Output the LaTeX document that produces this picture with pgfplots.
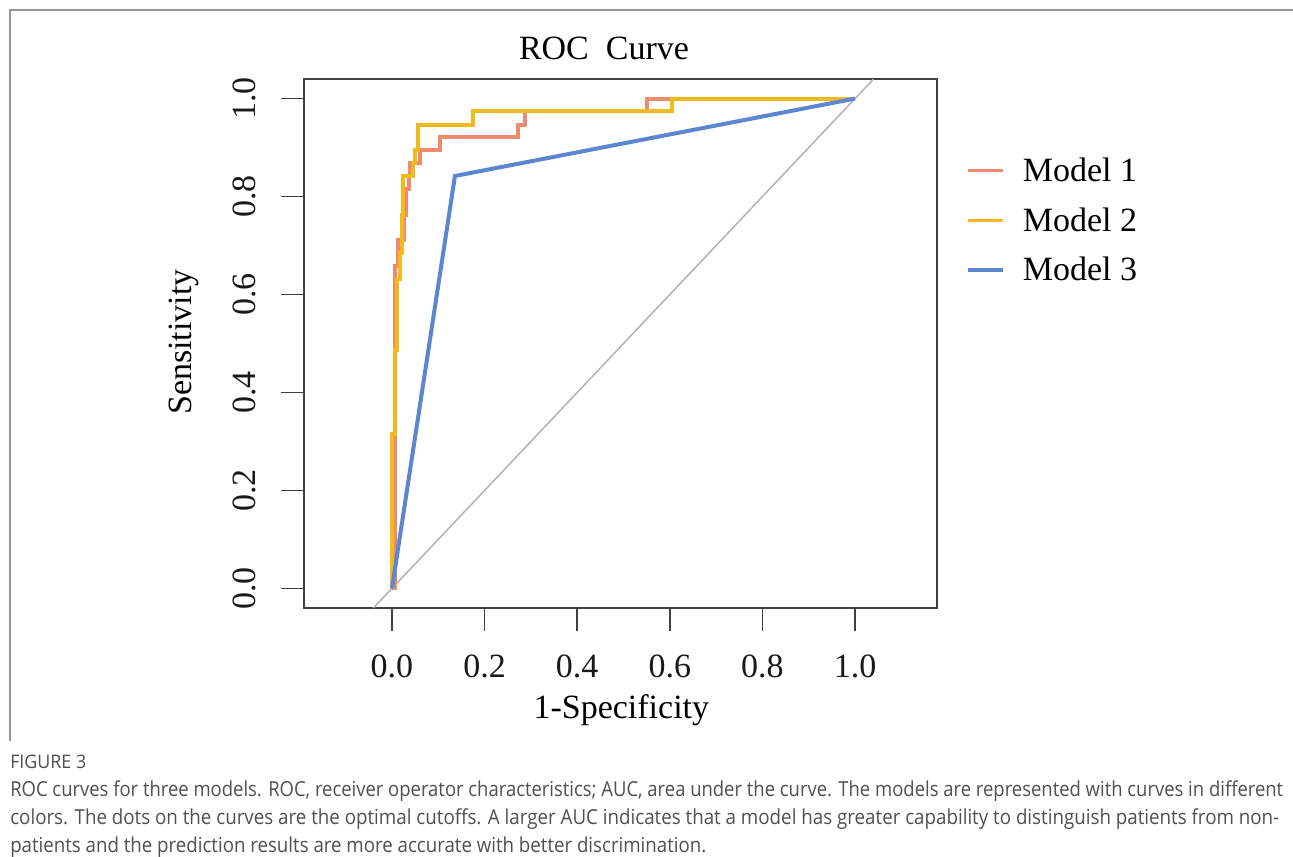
\documentclass[border=0pt]{standalone}
\usepackage{pgfplots}
\pgfplotsset{compat=1.18}
\usepackage{fontspec}
\usepackage{graphicx}
\setmainfont{Liberation Serif}
\newfontfamily\capfont{Open Sans}
\definecolor{m1}{RGB}{240,138,108}
\definecolor{m2}{RGB}{243,186,30}
\definecolor{m3}{RGB}{90,135,208}
\definecolor{diag}{RGB}{185,175,175}
\definecolor{capgray}{RGB}{80,80,80}
\definecolor{framegray}{RGB}{150,150,150}
\begin{document}
\begin{tikzpicture}
\useasboundingbox (0,0) rectangle (969.75pt,-642.75pt);
\fill[white] (0,0) rectangle (969.75pt,-642.75pt);
\draw[framegray, line width=1.1pt] (7.5pt,-556pt) -- (7.5pt,-7.5pt) -- (969.75pt,-7.5pt);
\begin{axis}[
  at={(228pt,-456pt)}, anchor=south west,
  width=474.75pt, height=396.75pt, scale only axis,
  xmin=-0.19, xmax=1.177, ymin=-0.04, ymax=1.04,
  axis line style={black!75, line width=1.1pt},
  tick style={black!75, line width=1.1pt},
  major tick length=17pt,
  tick align=outside,
  xtick pos=bottom, ytick pos=left,
  xtick={0,0.2,0.4,0.6,0.8,1}, xticklabels={0.0,0.2,0.4,0.6,0.8,1.0},
  ytick={0,0.2,0.4,0.6,0.8,1}, yticklabels={0.0,0.2,0.4,0.6,0.8,1.0},
  ticklabel style={font=\fontsize{25.5}{30}\selectfont, inner sep=0pt, text=black!90},
  xticklabel style={anchor=north, yshift=-18pt},
  yticklabel style={rotate=90, anchor=south, yshift=19pt},
  legend style={at={(axis description cs:1.046,0.733)}, anchor=west, draw=none, fill=none,
    inner sep=0pt, font=\fontsize{25.5}{30}\selectfont, row sep=18pt, column sep=13.5pt,
    nodes={inner sep=0pt}, cells={anchor=west}},
  legend image code/.code={\draw[#1, line width=2.6pt] (0pt,0pt) -- (26.25pt,0pt);},
]
\addplot[diag, line width=1.1pt, forget plot] coordinates {(-0.04,-0.04) (1.04,1.04)};
\addplot[m1, line width=3pt] coordinates {
(0,0) (0.0065,0) (0.0065,0.658) (0.013,0.658) (0.013,0.711) (0.026,0.711) (0.026,0.763)
(0.030,0.763) (0.030,0.816) (0.037,0.816) (0.037,0.842) (0.039,0.842) (0.039,0.868)
(0.060,0.868) (0.060,0.895) (0.104,0.895) (0.104,0.921) (0.273,0.921) (0.273,0.947)
(0.287,0.947) (0.287,0.974) (0.550,0.974) (0.550,1.0) (1,1)};
\addlegendentry{Model 1}
\addplot[m2, line width=3pt] coordinates {
(0,0) (0,0.316) (0.0065,0.316) (0.0065,0.487) (0.010,0.487) (0.010,0.632) (0.017,0.632)
(0.017,0.684) (0.021,0.684) (0.021,0.763) (0.024,0.763) (0.024,0.842) (0.046,0.842)
(0.046,0.868) (0.050,0.868) (0.050,0.895) (0.057,0.895) (0.057,0.947) (0.176,0.947)
(0.176,0.974) (0.605,0.974) (0.605,1) (1,1)};
\addlegendentry{Model 2}
\addplot[m3, line width=3pt] coordinates {(0,0) (0.136,0.842) (1,1)};
\addlegendentry{Model 3}
\end{axis}
\node[font=\fontsize{25.5}{30}\selectfont, inner sep=0pt] at (453pt,-36pt) {ROC\ \ Curve};
\node[font=\fontsize{25.5}{30}\selectfont, inner sep=0pt, anchor=base] at (466pt,-538.5pt) {1-Specificity};
\node[font=\fontsize{25.5}{30}\selectfont, inner sep=0pt, anchor=base, rotate=90] at (143.5pt,-256.5pt) {Sensitivity};
\node[anchor=base west, inner sep=0pt, text=capgray, font=\capfont\fontsize{14}{16}\selectfont] at (7.5pt,-576pt) {\resizebox{57pt}{\height}{FIGURE 3}};
\node[anchor=base west, inner sep=0pt, text=capgray, font=\capfont\fontsize{15.5}{18}\selectfont] at (7.5pt,-597pt) {\resizebox{954.75pt}{\height}{ROC curves for three models. ROC, receiver operator characteristics; AUC, area under the curve. The models are represented with curves in different}};
\node[anchor=base west, inner sep=0pt, text=capgray, font=\capfont\fontsize{15.5}{18}\selectfont] at (7.5pt,-618pt) {\resizebox{951.75pt}{\height}{colors. The dots on the curves are the optimal cutoffs. A larger AUC indicates that a model has greater capability to distinguish patients from non-}};
\node[anchor=base west, inner sep=0pt, text=capgray, font=\capfont\fontsize{15.5}{18}\selectfont] at (7.5pt,-639pt) {\resizebox{522pt}{\height}{patients and the prediction results are more accurate with better discrimination.}};
\end{tikzpicture}
\end{document}
